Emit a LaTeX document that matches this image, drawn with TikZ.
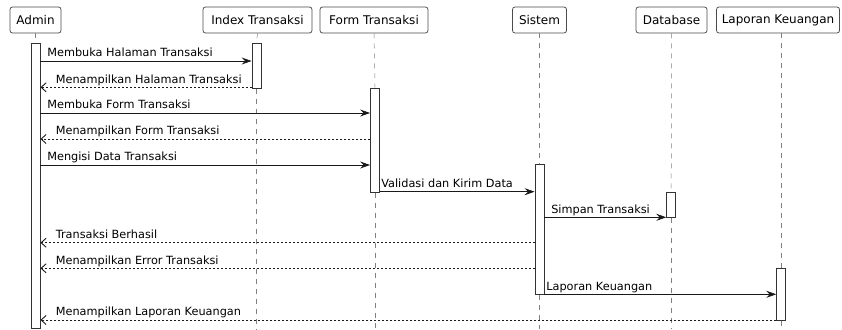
\documentclass[tikz,border=0pt]{standalone}
\usepackage{fontspec}
\setmainfont{DejaVu Sans}
\usetikzlibrary{arrows.meta, calc}

\begin{document}
\begin{tikzpicture}[
    x=1pt, y=-1pt,
    % Styles for the sequence diagram
    actor/.style={draw=black!70, line width=0.75pt, rounded corners=2.5pt, fill=white,
        minimum height=26pt, inner xsep=4pt, font=\fontsize{12}{14}\selectfont},
    lifeline/.style={draw=black!50, dash pattern=on 5pt off 5pt, line width=0.5pt},
    activation/.style={draw=black!80, fill=white, line width=0.9pt, minimum width=9pt,
        inner sep=0pt, anchor=north},
    call/.style={draw=black!90, line width=0.7pt, -{Stealth[length=10pt, width=7pt, inset=3.5pt]}},
    reply/.style={draw=black!90, line width=0.7pt, dash pattern=on 2pt off 2pt,
        -{Straight Barb[length=5pt, width=9pt, line width=0.9pt]}},
    msglabel/.style={font=\fontsize{11.3}{13}\selectfont, anchor=base west, inner sep=0pt}
]

    \useasboundingbox (0,0) rectangle (842,329);

    % Participants

    \node[actor, minimum width=51pt] (admin) at (35.5,20) {Admin};
    \node[actor, minimum width=109pt] (index) at (257.5,20) {Index Transaksi};
    \node[actor, minimum width=108pt] (form) at (374,20) {Form Transaksi};
    \node[actor, minimum width=54pt] (sistem) at (539.5,20) {Sistem};
    \node[actor, minimum width=71pt] (db) at (671.5,20) {Database};
    \node[actor, minimum width=123pt] (lapor) at (778,20) {Laporan Keuangan};

    % Activation bars

    \node[activation, minimum height=285pt] (actAdmin) at (35.5,43) {};
    \node[activation, minimum height=44.7pt] (actIndex) at (256.5,43) {};
    \node[activation, minimum height=104pt] (actForm) at (375,87.7) {};
    \node[activation, minimum height=130pt] (actSistem) at (539.5,164.3) {};
    \node[activation, minimum height=25.6pt] (actDb) at (671.2,191.7) {};
    \node[activation, minimum height=51.7pt] (actLapor) at (781.2,268.3) {};

    %% Lifelines down to the lower edge, broken by the bars
    \coordinate (bottom) at (0,329);
    \draw[lifeline] (admin.south) -- (actAdmin.north);
    \draw[lifeline] (index.south) -- (actIndex.north);
    \draw[lifeline] (actIndex.south) -- (actIndex.south |- bottom);
    \draw[lifeline] (form.south) -- (actForm.north);
    \draw[lifeline] (actForm.south) -- (actForm.south |- bottom);
    \draw[lifeline] (sistem.south) -- (actSistem.north);
    \draw[lifeline] (actSistem.south) -- (actSistem.south |- bottom);
    \draw[lifeline] (db.south) -- (actDb.north);
    \draw[lifeline] (actDb.south) -- (actDb.south |- bottom);
    \draw[lifeline] (actLapor.north |- lapor.south) -- (actLapor.north);
    \draw[lifeline] (actLapor.south) -- (actLapor.south |- bottom);

    % Messages

    %% Message levels
    \coordinate (m1) at (0,61);
    \coordinate (m2) at (0,87.3);
    \coordinate (m3) at (0,113);
    \coordinate (m4) at (0,139);
    \coordinate (m5) at (0,165);
    \coordinate (m6) at (0,191.7);
    \coordinate (m7) at (0,217.3);
    \coordinate (m8) at (0,242.7);
    \coordinate (m9) at (0,268.3);
    \coordinate (m10) at (0,294.3);
    \coordinate (m11) at (0,320);

    \draw[call] (actAdmin.east |- m1) -- (actIndex.west |- m1)
        node[msglabel, at start, xshift=6.5pt, yshift=4.3pt] {Membuka Halaman Transaksi};
    \draw[reply] (actIndex.west |- m2) -- (actAdmin.east |- m2)
        node[msglabel, at end, xshift=15pt, yshift=4.3pt] {Menampilkan Halaman Transaksi};
    \draw[call] (actAdmin.east |- m3) -- (actForm.west |- m3)
        node[msglabel, at start, xshift=6.5pt, yshift=4.3pt] {Membuka Form Transaksi};
    \draw[reply] (actForm.west |- m4) -- (actAdmin.east |- m4)
        node[msglabel, at end, xshift=15pt, yshift=4.3pt] {Menampilkan Form Transaksi};
    \draw[call] (actAdmin.east |- m5) -- (actForm.west |- m5)
        node[msglabel, at start, xshift=6.5pt, yshift=4.3pt] {Mengisi Data Transaksi};
    \draw[call] (actForm.east |- m6) -- (actSistem.west |- m6)
        node[msglabel, at start, xshift=1pt, yshift=4.3pt] {Validasi dan Kirim Data};
    \draw[call] (actSistem.east |- m7) -- (actDb.west |- m7)
        node[msglabel, at start, xshift=6.5pt, yshift=4.3pt] {Simpan Transaksi};
    \draw[reply] (actSistem.west |- m8) -- (actAdmin.east |- m8)
        node[msglabel, at end, xshift=15pt, yshift=4.3pt] {Transaksi Berhasil};
    \draw[reply] (actSistem.west |- m9) -- (actAdmin.east |- m9)
        node[msglabel, at end, xshift=15pt, yshift=4.3pt] {Menampilkan Error Transaksi};
    \draw[call] (actSistem.east |- m10) -- (actLapor.west |- m10)
        node[msglabel, at start, xshift=1.5pt, yshift=4.3pt] {Laporan Keuangan};
    \draw[reply] (actLapor.west |- m11) -- (actAdmin.east |- m11)
        node[msglabel, at end, xshift=15pt, yshift=4.3pt] {Menampilkan Laporan Keuangan};

\end{tikzpicture}
\end{document}
